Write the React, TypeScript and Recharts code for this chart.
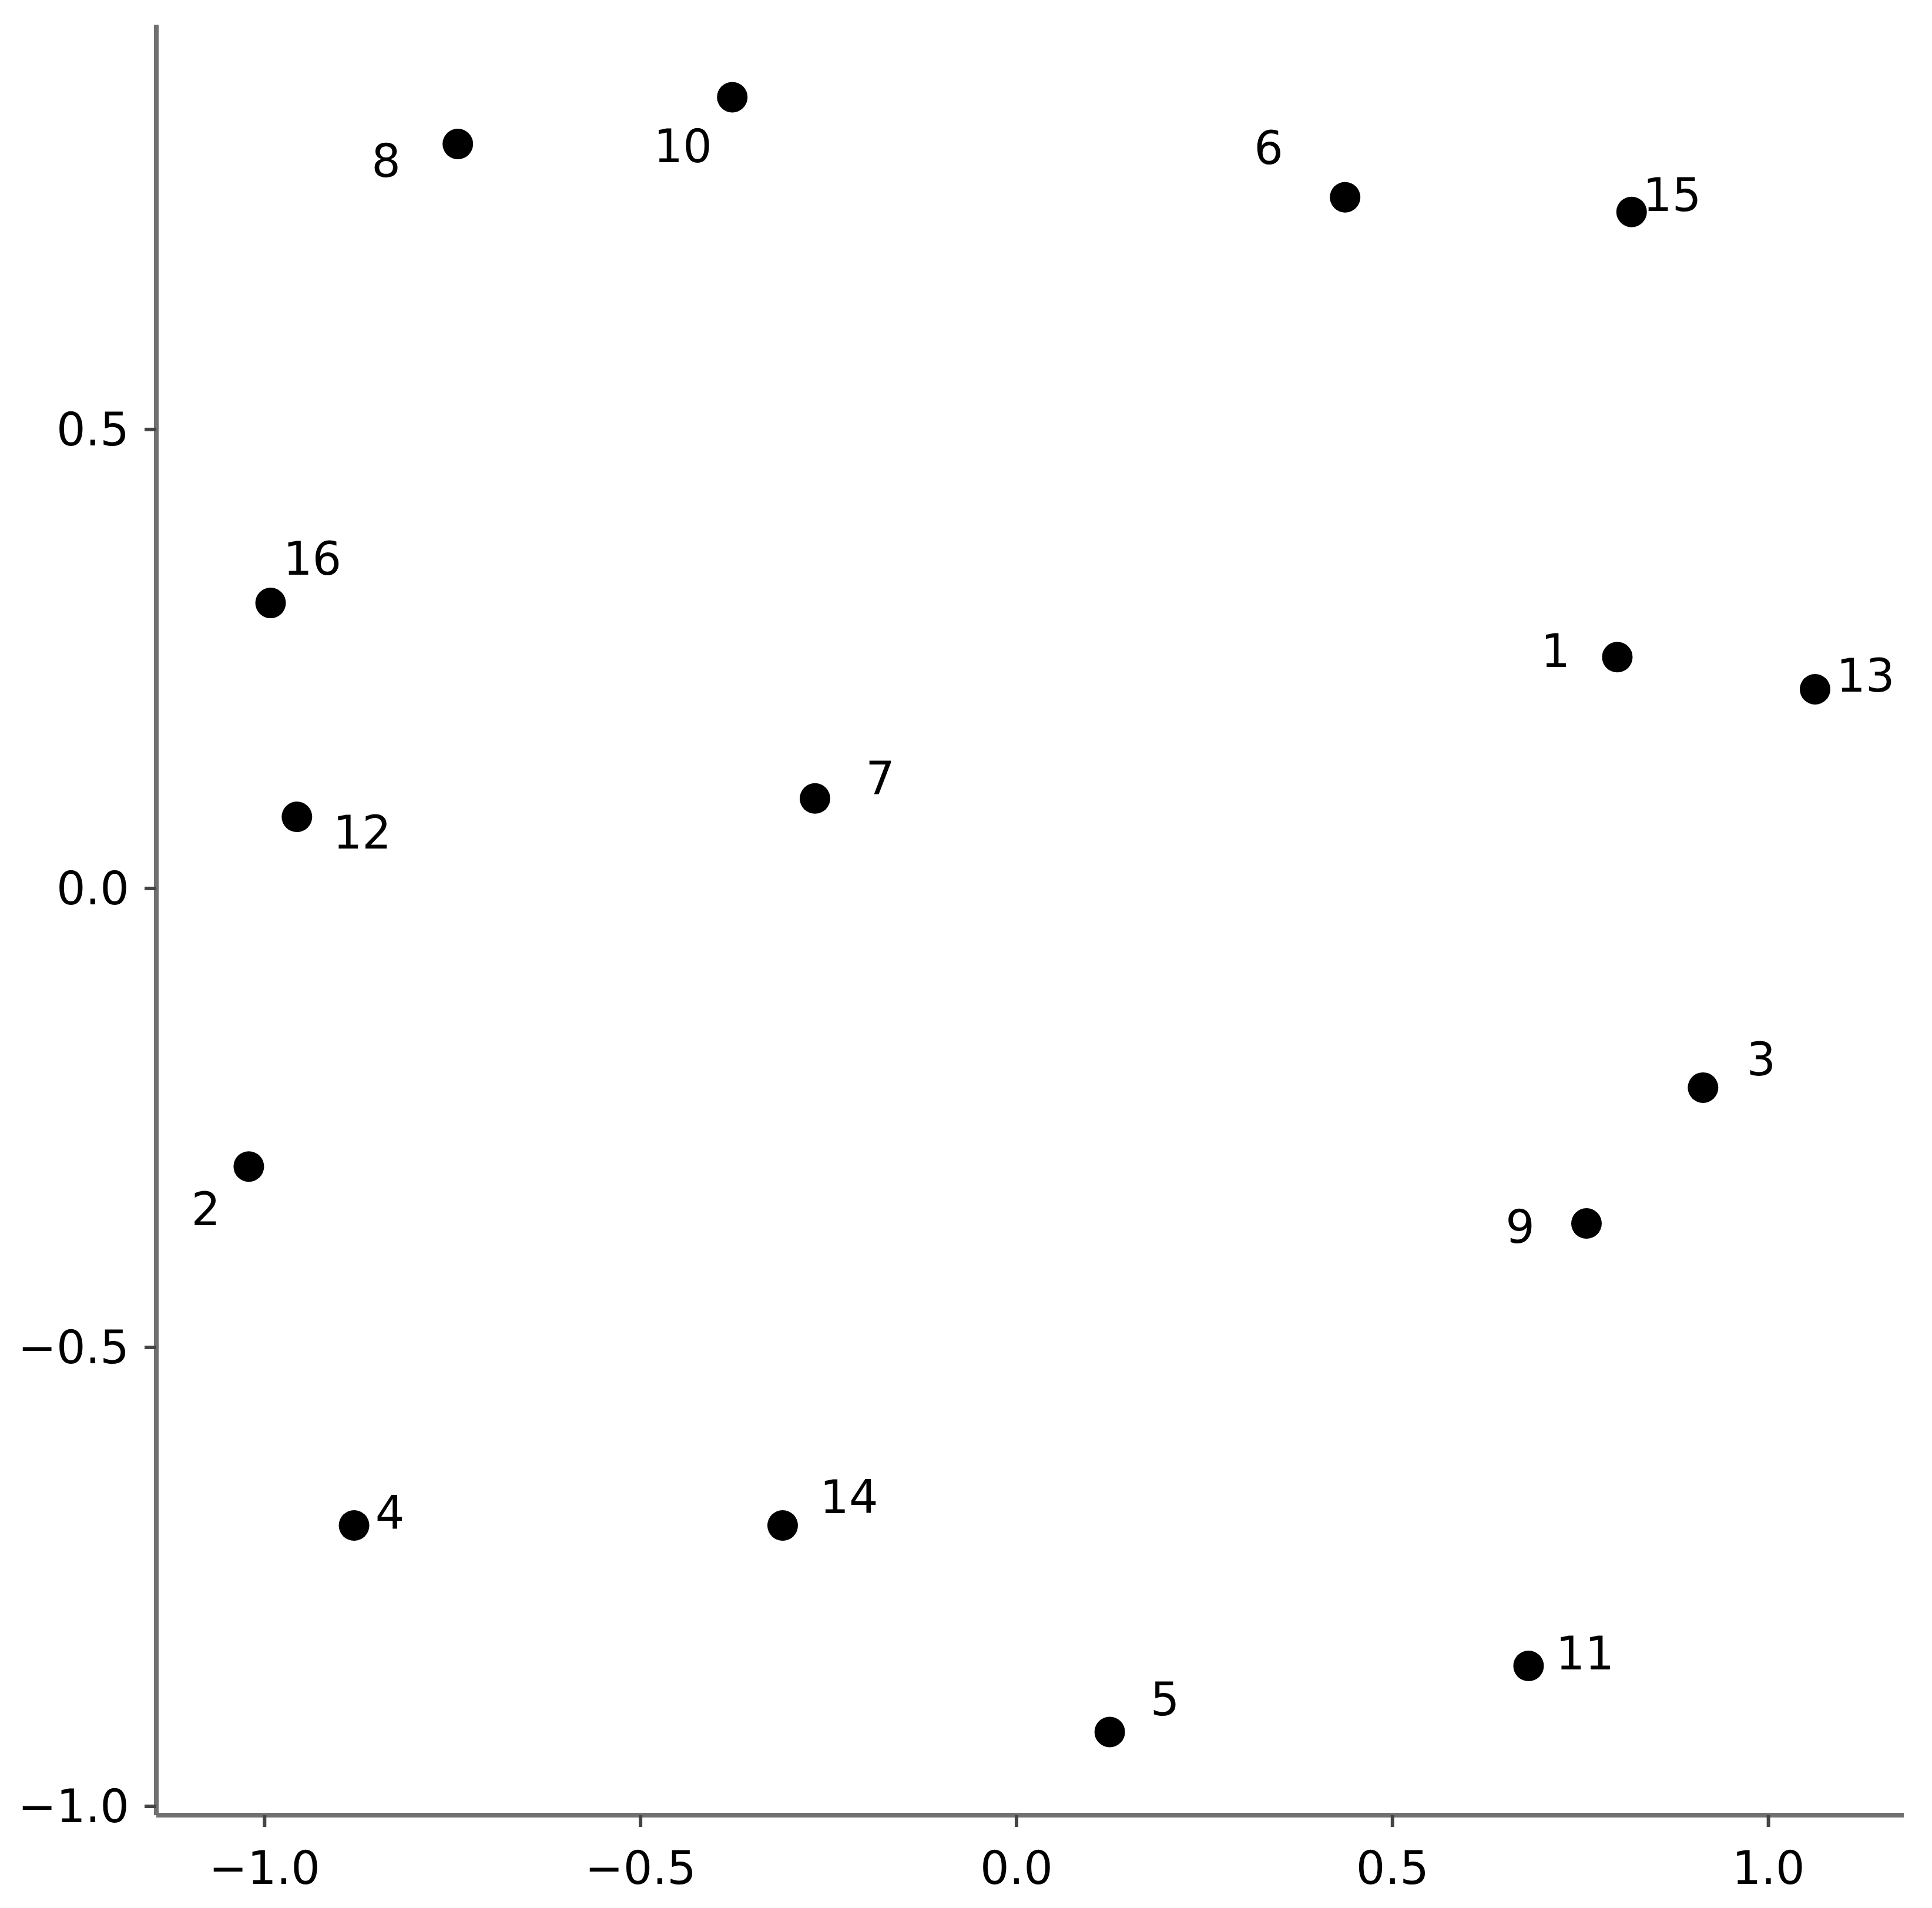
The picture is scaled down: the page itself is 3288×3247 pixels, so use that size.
import React from 'react';
import { ScatterChart, Scatter, XAxis, YAxis } from 'recharts';

// point ids and their coordinates
const ids = ['1', '2', '3', '4', '5', '6', '7', '8', '9', '10', '11', '12', '13', '14', '15', '16'];
const xs = [0.799, -1.021, 0.913, -0.881, 0.124, 0.437, -0.268, -0.743, 0.758, -0.378, 0.681, -0.957, 1.062, -0.311, 0.818, -0.992];
const ys = [0.252, -0.303, -0.217, -0.694, -0.919, 0.753, 0.098, 0.811, -0.365, 0.862, -0.847, 0.078, 0.217, -0.694, 0.737, 0.311];

const xTicks = [-1, -0.5, 0, 0.5, 1];
const yTicks = [-1, -0.5, 0, 0.5];

// where each label sits relative to its dot, in px
const labelOffsets: { [id: string]: [number, number] } = {
  '1': [-105, -10],
  '2': [-73, 73],
  '3': [99, -48],
  '4': [61, -21],
  '5': [94, -55],
  '6': [-130, -84],
  '7': [111, -34],
  '8': [-122, 29],
  '9': [-113, 6],
  '10': [-84, 84],
  '11': [96, -21],
  '12': [111, 27],
  '13': [86, -23],
  '14': [113, -48],
  '15': [69, -29],
  '16': [71, -75]
};

const FONT = '"DejaVu Sans", sans-serif';

const fmt = (v: number) => {
  const s = Math.abs(v).toFixed(1);
  return v < 0 ? '\u2212' + s : s;
};

const data = ids.map((id, i) => ({ id, x: xs[i], y: ys[i] }));

const XTick = (props: any) => {
  const { x, y, payload } = props;
  return (
    <text
      x={x}
      y={y + 68}
      textAnchor="middle"
      dominantBaseline="central"
      fontSize={78}
      fontFamily={FONT}
      fill="#000"
    >
      {fmt(payload.value)}
    </text>
  );
};

const YTick = (props: any) => {
  const { x, y, payload } = props;
  return (
    <text
      x={x - 24}
      y={y}
      textAnchor="end"
      dominantBaseline="central"
      fontSize={78}
      fontFamily={FONT}
      fill="#000"
    >
      {fmt(payload.value)}
    </text>
  );
};

const Dot = (props: any) => {
  const { cx, cy, payload } = props;
  const off = labelOffsets[payload.id] || [0, 0];
  return (
    <g>
      <circle cx={cx} cy={cy} r={26} fill="#000" />
      <text
        x={cx + off[0]}
        y={cy + off[1]}
        textAnchor="middle"
        dominantBaseline="central"
        fontSize={78}
        fontFamily={FONT}
        fill="#000"
      >
        {payload.id}
      </text>
    </g>
  );
};

export default function App() {
  return (
    <div style={{ position: 'absolute', left: 0, top: 0, background: '#fff' }}>
      <ScatterChart
        width={3288}
        height={3247}
        margin={{ top: 42, right: 48, bottom: 0, left: 0 }}
      >
        <XAxis
          type="number"
          dataKey="x"
          domain={[-1.144, 1.18]}
          ticks={xTicks}
          allowDataOverflow
          height={158}
          axisLine={{ stroke: '#707070', strokeWidth: 8 }}
          tickLine={{ stroke: '#444', strokeWidth: 6 }}
          tickSize={20}
          tick={<XTick />}
        />
        <YAxis
          type="number"
          dataKey="y"
          domain={[-1.0096, 0.941]}
          ticks={yTicks}
          allowDataOverflow
          width={266}
          axisLine={{ stroke: '#707070', strokeWidth: 8 }}
          tickLine={{ stroke: '#444', strokeWidth: 6 }}
          tickSize={20}
          tick={<YTick />}
        />
        <Scatter data={data} shape={<Dot />} isAnimationActive={false} />
      </ScatterChart>
    </div>
  );
}
